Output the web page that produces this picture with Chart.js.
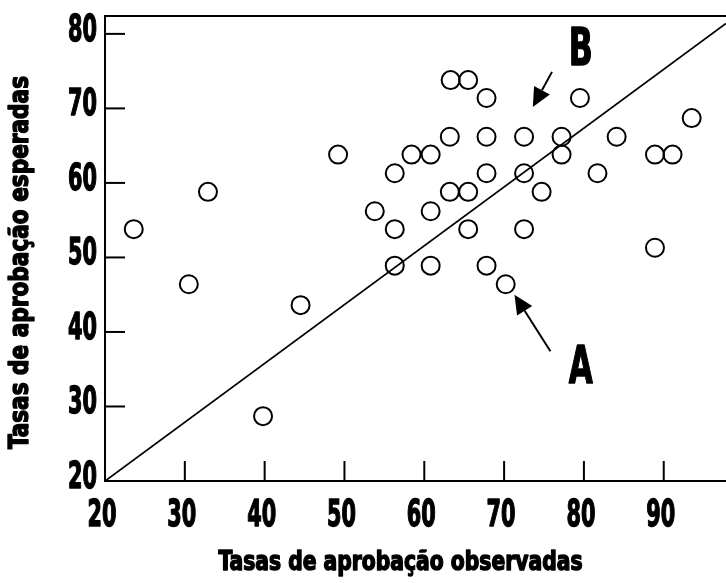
<!DOCTYPE html>
<html>
<head>
<meta charset="utf-8">
<script src="https://cdn.jsdelivr.net/npm/chart.js@4.4.1/dist/chart.umd.min.js"></script>
<style>
  body { margin: 0; background: #fff; }
  #wrap { width: 726px; height: 583px; }
</style>
</head>
<body>
<div id="wrap"><canvas id="chartRates" width="726" height="583"></canvas></div>
<script>
// observed (x) vs expected (y) pass rates
var observedRates = [23.6, 30.5, 32.9, 39.8, 44.5, 49.2, 53.8, 56.3, 56.3, 56.3, 58.4, 60.8, 60.8, 60.8, 63.2, 63.2, 63.3, 65.5, 65.5, 65.5, 67.8, 67.8, 67.8, 67.8, 70.2, 72.5, 72.5, 72.5, 74.7, 77.2, 77.2, 79.5, 81.7, 84.1, 88.9, 91.1, 88.9, 93.5];
var expectedRates = [53.8, 46.4, 58.8, 28.7, 43.6, 63.8, 56.2, 61.3, 53.8, 48.9, 63.8, 63.8, 56.2, 48.9, 66.2, 58.8, 73.8, 73.8, 58.8, 53.8, 71.4, 66.2, 61.3, 48.9, 46.4, 66.2, 61.3, 53.8, 58.8, 66.2, 63.8, 71.4, 61.3, 66.2, 63.8, 63.8, 51.3, 68.7];
var xTicks = [20, 30, 40, 50, 60, 70, 80, 90];
var yTicks = [20, 30, 40, 50, 60, 70, 80];
var xRange = [20, 97.8];
var yRange = [20, 82.4];
var refLineX = [20, 97.8];
var refLineY = [20, 81.4];
var xTitle = 'Tasas de aprobação observadas';
var yTitle = 'Tasas de aprobação esperadas';
// annotations: letter position, arrow tail, arrow tip (data units)
var annoLetters = ['B', 'A'];
var annoLetterPos = [[79.6, 77.6], [79.6, 35.0]];
var annoArrowTail = [[76.0, 74.9], [75.8, 37.4]];
var annoArrowTip = [[73.6, 70.2], [71.3, 45.0]];

var fontFam = "'DejaVu Sans Condensed', 'DejaVu Sans', sans-serif";

var scatterData = [];
for (var i = 0; i < observedRates.length; i++) {
    scatterData.push({ x: observedRates[i], y: expectedRates[i] });
}
var lineData = [];
for (var j = 0; j < refLineX.length; j++) {
    lineData.push({ x: refLineX[j], y: refLineY[j] });
}

// heavy condensed text, squeezed horizontally to a target width
function squeezedText(ctx, text, x, y, size, targetW, align, rot) {
    ctx.save();
    ctx.font = 'bold ' + size + 'px ' + fontFam;
    var w = ctx.measureText(text).width;
    ctx.translate(x, y);
    if (rot) ctx.rotate(rot);
    ctx.scale(targetW / w, 1);
    ctx.textAlign = align;
    ctx.textBaseline = 'middle';
    ctx.lineWidth = 1.4;
    ctx.lineJoin = 'round';
    ctx.fillText(text, 0, 0);
    ctx.strokeText(text, 0, 0);
    ctx.restore();
}

function drawArrow(ctx, x1, y1, x2, y2) {
    var ang = Math.atan2(y2 - y1, x2 - x1);
    var headLen = 19, headW = 9;
    var bx = x2 - headLen * Math.cos(ang), by = y2 - headLen * Math.sin(ang);
    ctx.beginPath();
    ctx.moveTo(x1, y1);
    ctx.lineTo(bx, by);
    ctx.stroke();
    ctx.beginPath();
    ctx.moveTo(x2, y2);
    ctx.lineTo(bx + headW * Math.sin(ang), by - headW * Math.cos(ang));
    ctx.lineTo(bx - headW * Math.sin(ang), by + headW * Math.cos(ang));
    ctx.closePath();
    ctx.fill();
}

var framePlugin = {
    id: 'framePlugin',
    afterDraw: function (chart) {
        var ctx = chart.ctx, area = chart.chartArea;
        var xs = chart.scales.x, ys = chart.scales.y;
        ctx.save();
        ctx.strokeStyle = '#000';
        ctx.fillStyle = '#000';
        ctx.lineWidth = 2;
        // top border
        ctx.beginPath();
        ctx.moveTo(area.left, area.top);
        ctx.lineTo(area.right, area.top);
        ctx.stroke();
        // inward tick marks + labels
        xTicks.forEach(function (v) {
            var px = xs.getPixelForValue(v);
            if (v !== xRange[0]) {
                ctx.beginPath();
                ctx.moveTo(px, area.bottom);
                ctx.lineTo(px, area.bottom - 20);
                ctx.stroke();
            }
            squeezedText(ctx, String(v), px - 3, area.bottom + 35, 38, 29, 'center');
        });
        yTicks.forEach(function (v) {
            var py = ys.getPixelForValue(v);
            if (v !== yRange[0]) {
                ctx.lineWidth = 2;
                ctx.beginPath();
                ctx.moveTo(area.left, py);
                ctx.lineTo(area.left + 20, py);
                ctx.stroke();
            }
            squeezedText(ctx, String(v), area.left - 8, py - 3, 38, 29, 'right');
        });
        // axis titles
        squeezedText(ctx, xTitle, (area.left + area.right) / 2 - 15, area.bottom + 82, 26, 364, 'center');
        squeezedText(ctx, yTitle, 21, (area.top + area.bottom) / 2 + 14, 26, 373, 'center', -Math.PI / 2);
        // annotations
        ctx.lineWidth = 2;
        for (var k = 0; k < annoLetters.length; k++) {
            squeezedText(ctx, annoLetters[k], xs.getPixelForValue(annoLetterPos[k][0]), ys.getPixelForValue(annoLetterPos[k][1]), 52, 24, 'center');
            ctx.lineWidth = 2;
            drawArrow(ctx,
                xs.getPixelForValue(annoArrowTail[k][0]), ys.getPixelForValue(annoArrowTail[k][1]),
                xs.getPixelForValue(annoArrowTip[k][0]), ys.getPixelForValue(annoArrowTip[k][1]));
        }
        ctx.restore();
    }
};

var chartEl = document.getElementById('chartRates');
var myChart = new Chart(chartEl, {
    type: 'scatter',
    data: {
        datasets: [{
            data: scatterData,
            pointStyle: 'circle',
            pointRadius: 9,
            pointHoverRadius: 9,
            pointBorderWidth: 2,
            borderColor: '#000',
            backgroundColor: 'rgba(255,255,255,0)'
        }, {
            data: lineData,
            showLine: true,
            pointRadius: 0,
            borderColor: '#000',
            borderWidth: 1.8
        }]
    },
    options: {
        responsive: false,
        animation: false,
        events: [],
        layout: { autoPadding: false, padding: { top: 16, right: 0, left: 0, bottom: 0 } },
        plugins: { legend: { display: false }, tooltip: { enabled: false } },
        scales: {
            x: {
                type: 'linear',
                min: xRange[0],
                max: xRange[1],
                afterBuildTicks: function (scale) {
                    scale.ticks = xTicks.map(function (v) { return { value: v }; });
                },
                afterFit: function (scale) {
                    scale.height = 102;
                    scale.paddingLeft = 0;
                    scale.paddingRight = 0;
                },
                grid: { display: false, drawTicks: false },
                border: { display: true, color: '#000', width: 2 },
                ticks: { display: false },
                title: { display: false, text: xTitle }
            },
            y: {
                type: 'linear',
                min: yRange[0],
                max: yRange[1],
                afterBuildTicks: function (scale) {
                    scale.ticks = yTicks.map(function (v) { return { value: v }; });
                },
                afterFit: function (scale) {
                    scale.width = 105;
                    scale.paddingTop = 0;
                    scale.paddingBottom = 0;
                },
                grid: { display: false, drawTicks: false },
                border: { display: true, color: '#000', width: 2 },
                ticks: { display: false },
                title: { display: false, text: yTitle }
            }
        }
    },
    plugins: [framePlugin]
});
</script>
</body>
</html>
